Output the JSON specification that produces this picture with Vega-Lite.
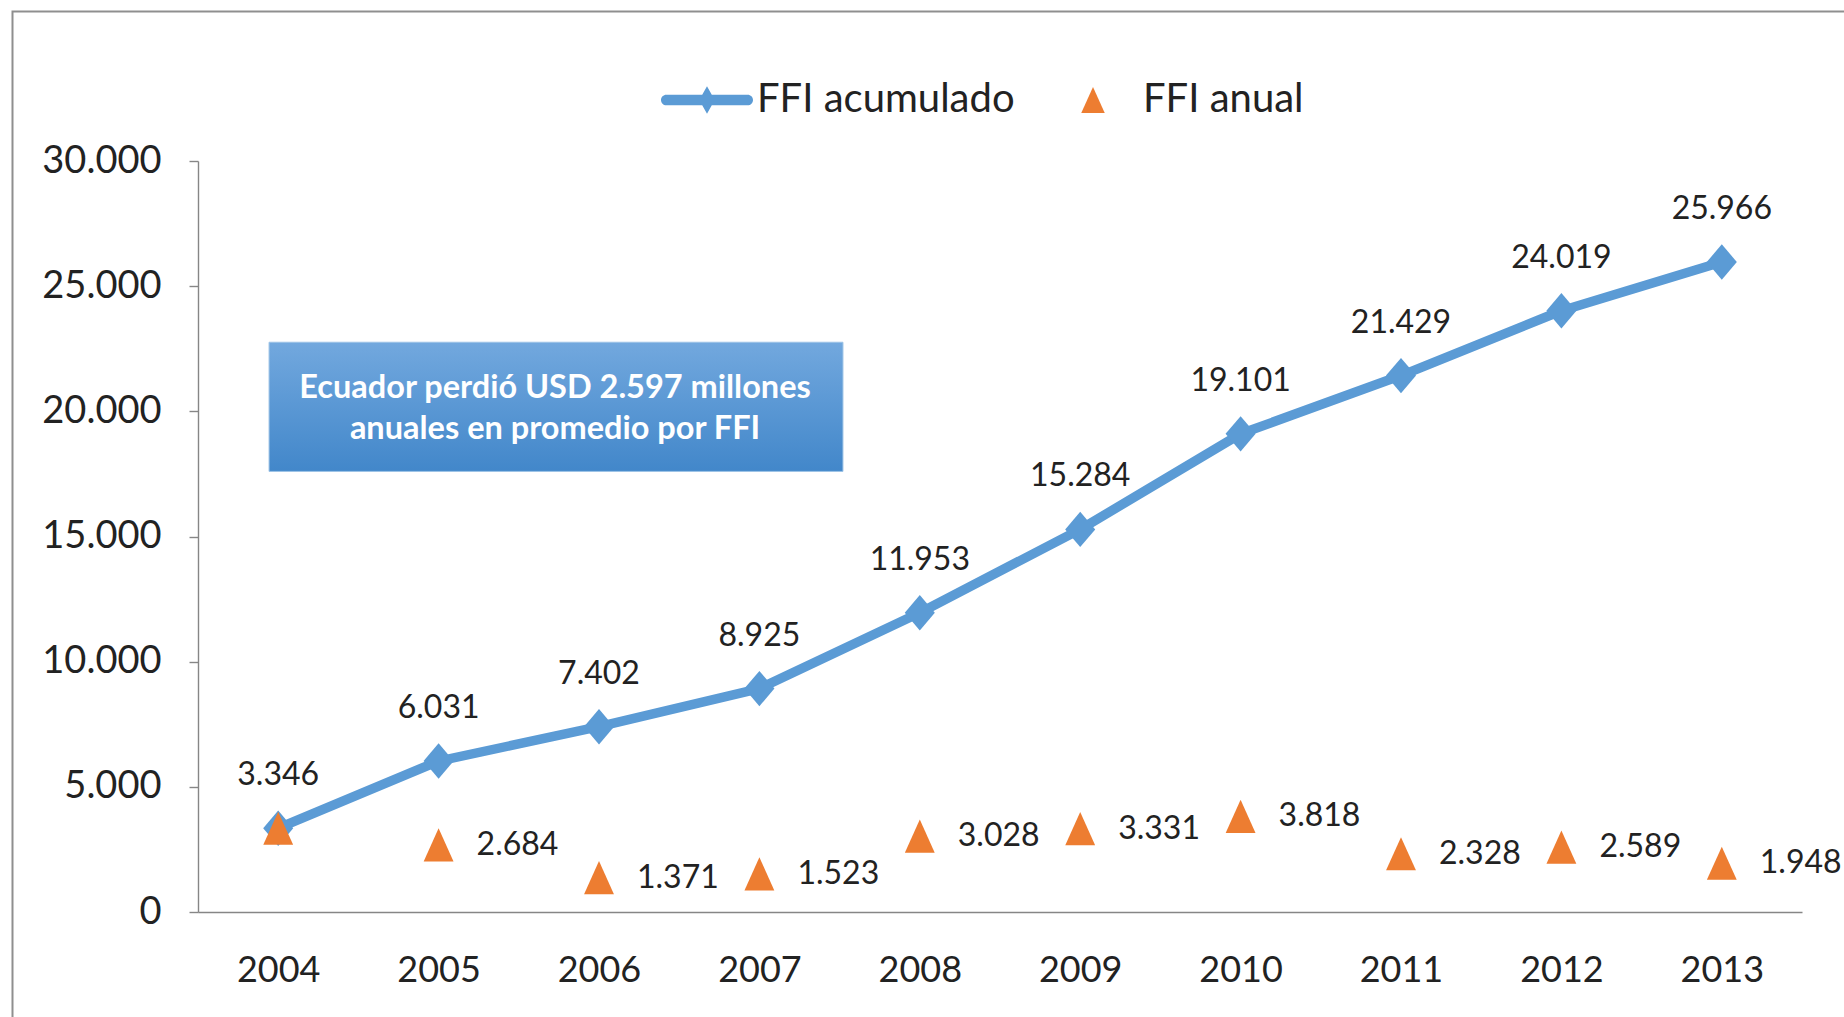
{
  "$schema": "https://vega.github.io/schema/vega-lite/v6.json",
  "width": 1604,
  "height": 751,
  "autosize": {"type": "none"},
  "padding": {"left": 198, "top": 161, "right": 42, "bottom": 105},
  "background": "white",
  "config": {
    "locale": {"number": {"decimal": ",", "thousands": ".", "grouping": [3], "currency": ["$", ""]}},
    "view": {"stroke": null},
    "font": "Lato"
  },
  "data": {
    "values": [
      {"year": 2004, "FFI acumulado": 3346, "FFI anual": 3346},
      {"year": 2005, "FFI acumulado": 6031, "FFI anual": 2684},
      {"year": 2006, "FFI acumulado": 7402, "FFI anual": 1371},
      {"year": 2007, "FFI acumulado": 8925, "FFI anual": 1523},
      {"year": 2008, "FFI acumulado": 11953, "FFI anual": 3028},
      {"year": 2009, "FFI acumulado": 15284, "FFI anual": 3331},
      {"year": 2010, "FFI acumulado": 19101, "FFI anual": 3818},
      {"year": 2011, "FFI acumulado": 21429, "FFI anual": 2328},
      {"year": 2012, "FFI acumulado": 24019, "FFI anual": 2589},
      {"year": 2013, "FFI acumulado": 25966, "FFI anual": 1948}
    ]
  },
  "layer": [
    {
      "mark": {"type": "line", "color": "#5b9bd5", "strokeWidth": 9.5, "strokeCap": "round", "strokeJoin": "round"},
      "encoding": {
        "x": {
          "field": "year", "type": "quantitative",
          "scale": {"domain": [2003.5, 2013.5], "nice": false, "zero": false},
          "axis": {
            "title": null, "values": [2004, 2005, 2006, 2007, 2008, 2009, 2010, 2011, 2012, 2013],
            "format": "d", "grid": false, "ticks": false, "labelPadding": 41,
            "labelFontSize": 36, "labelFont": "Lato", "labelColor": "#222222",
            "domainColor": "#868686", "domainWidth": 1.4, "labelFlush": false
          }
        },
        "y": {
          "field": "FFI acumulado", "type": "quantitative",
          "scale": {"domain": [0, 30000], "nice": false},
          "axis": {
            "title": null, "values": [0, 5000, 10000, 15000, 20000, 25000, 30000],
            "format": ",d", "grid": false, "tickSize": 9, "tickColor": "#868686", "tickWidth": 1.4,
            "labelPadding": 28, "labelFontSize": 38, "labelFont": "Lato", "labelColor": "#222222",
            "domainColor": "#868686", "domainWidth": 1.4
          }
        }
      }
    },
    {
      "data": {"values": [{"tipo": "borde"}]},
      "mark": {"type": "rect", "filled": false, "stroke": "#8f8f8f", "strokeWidth": 2},
      "encoding": {
        "x": {"datum": 2002.3435, "type": "quantitative", "scale": {"domain": [2003.5, 2013.5], "nice": false, "zero": false}},
        "x2": {"datum": 2013.86},
        "y": {"datum": 35972, "type": "quantitative", "scale": {"domain": [0, 30000], "nice": false}},
        "y2": {"datum": -4720}
      }
    },
    {
      "data": {"values": [{"tipo": "nota"}]},
      "mark": {
        "type": "rect", "stroke": "#9dc3e6", "strokeWidth": 1,
        "color": {"gradient": "linear", "x1": 0, "y1": 0, "x2": 0, "y2": 1,
          "stops": [{"offset": 0, "color": "#72a8de"}, {"offset": 1, "color": "#4287ca"}]}
      },
      "encoding": {
        "x": {"datum": 2003.943, "type": "quantitative", "scale": {"domain": [2003.5, 2013.5], "nice": false, "zero": false}},
        "x2": {"datum": 2007.521},
        "y": {"datum": 22760, "type": "quantitative", "scale": {"domain": [0, 30000], "nice": false}},
        "y2": {"datum": 17600}
      }
    },
    {
      "data": {"values": [{"tipo": "nota"}]},
      "mark": {
        "type": "text", "text": ["Ecuador perdió USD 2.597 millones", "anuales en promedio por FFI"],
        "font": "Lato", "fontWeight": "bold", "fontSize": 32.5, "color": "white",
        "align": "center", "baseline": "middle", "lineHeight": 41
      },
      "encoding": {
        "x": {"datum": 2005.726, "type": "quantitative", "scale": {"domain": [2003.5, 2013.5], "nice": false, "zero": false}},
        "y": {"datum": 20930, "type": "quantitative", "scale": {"domain": [0, 30000], "nice": false}}
      }
    },
    {
      "transform": [{"fold": ["FFI acumulado"], "as": ["serie", "valor"]}],
      "mark": {"type": "point", "filled": true, "opacity": 1, "size": 1250, "strokeWidth": 0, "shape": "M0,-1L0.85,0L0,1L-0.85,0Z"},
      "encoding": {
        "x": {"field": "year", "type": "quantitative", "title": null},
        "y": {"field": "valor", "type": "quantitative", "title": null},
        "color": {
          "field": "serie", "type": "nominal",
          "scale": {"domain": ["FFI acumulado"], "range": ["#5b9bd5"]},
          "legend": {
            "title": null, "orient": "none", "legendX": 463, "legendY": -107,
            "direction": "horizontal", "symbolSize": 8464, "symbolStrokeWidth": 0,
            "symbolType": "M-0.884,-0.116L-0.104,-0.116L0,-0.3L0.104,-0.116L0.884,-0.116A0.116,0.116 0 0 1 0.884,0.116L0.104,0.116L0,0.3L-0.104,0.116L-0.884,0.116A0.116,0.116 0 0 1 -0.884,-0.116Z",
            "labelFontSize": 40, "labelFont": "Lato", "labelColor": "#222222",
            "labelOffset": 4, "labelLimit": 600, "padding": 0
          }
        }
      }
    },
    {
      "transform": [{"fold": ["FFI anual"], "as": ["serie2", "valor2"]}],
      "mark": {"type": "point", "filled": true, "opacity": 1, "size": 1100, "strokeWidth": 0, "color": "#ed7d31"},
      "encoding": {
        "x": {"field": "year", "type": "quantitative", "title": null},
        "y": {"field": "valor2", "type": "quantitative", "title": null},
        "shape": {
          "field": "serie2", "type": "nominal",
          "scale": {"domain": ["FFI anual"], "range": ["M0,-1L0.9,1L-0.9,1Z"]},
          "legend": {
            "title": null, "orient": "none", "legendX": 875, "legendY": -81,
            "direction": "horizontal", "symbolSize": 680, "symbolStrokeWidth": 0,
            "symbolFillColor": "#ed7d31",
            "labelFontSize": 40, "labelFont": "Lato", "labelColor": "#222222",
            "labelOffset": 30, "labelLimit": 600, "padding": 0
          }
        }
      }
    },
    {
      "mark": {"type": "text", "align": "center", "baseline": "middle", "dy": -53, "fontSize": 32, "font": "Lato", "color": "#222222"},
      "encoding": {
        "x": {"field": "year", "type": "quantitative", "title": null},
        "y": {"field": "FFI acumulado", "type": "quantitative", "title": null},
        "text": {"field": "FFI acumulado", "type": "quantitative", "format": ",d"}
      }
    },
    {
      "transform": [{"filter": "datum.year > 2004"}],
      "mark": {"type": "text", "align": "left", "baseline": "middle", "dx": 38, "fontSize": 32, "font": "Lato", "color": "#222222"},
      "encoding": {
        "x": {"field": "year", "type": "quantitative", "title": null},
        "y": {"field": "FFI anual", "type": "quantitative", "title": null},
        "text": {"field": "FFI anual", "type": "quantitative", "format": ",d"}
      }
    }
  ]
}
